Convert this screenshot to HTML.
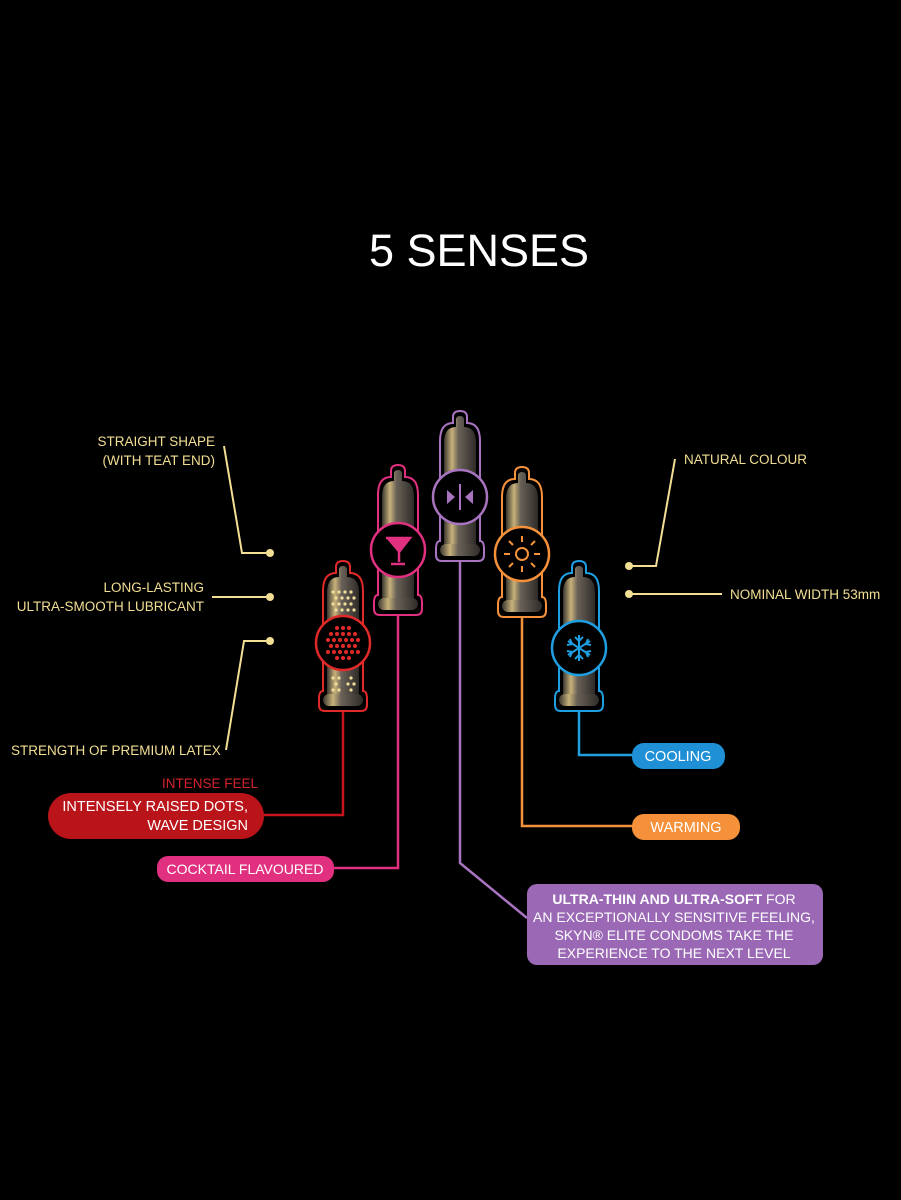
<!DOCTYPE html>
<html><head><meta charset="utf-8">
<style>
html,body{margin:0;padding:0;background:#000;}
body{width:901px;height:1200px;overflow:hidden;}
svg{display:block;}
text{font-family:"Liberation Sans",sans-serif;}
</style></head><body>
<svg width="901" height="1200" viewBox="0 0 901 1200" xmlns="http://www.w3.org/2000/svg">
<defs>
<linearGradient id="g" x1="0" x2="1" y1="0" y2="0">
<stop offset="0" stop-color="#3a3630"/><stop offset="0.25" stop-color="#c8b27a"/><stop offset="0.45" stop-color="#6a6258"/><stop offset="1" stop-color="#2e2b28"/>
</linearGradient>
<g id="c">
<path d="M-7,12 L-7,6 Q-7,0 0,0 Q7,0 7,6 L7,12 Q20,12 20,30 L20,130 Q24,130 24,138 L24,144 Q24,150 18,150 L-18,150 Q-24,150 -24,144 L-24,138 Q-24,130 -20,130 L-20,30 Q-20,12 -7,12 Z" fill="#000" stroke="currentColor" stroke-width="2"/>
<path d="M-4,16 L-4,9 Q-4,5 0,5 Q4,5 4,9 L4,16 Q16,16 16,32 L16,134 L-16,134 L-16,32 Q-16,16 -4,16 Z" fill="url(#g)"/>
<rect x="-20" y="133" width="40" height="12" rx="6" fill="url(#g)"/>
</g>
</defs>
<rect width="901" height="1200" fill="#000"/>
<text x="479" y="266" font-size="45" fill="#fff" text-anchor="middle">5 SENSES</text>

<g fill="none" stroke-width="2.5">
<polyline points="343,670 343,815 262,815" stroke="#c8151b"/>
<polyline points="398,577 398,868 332,868" stroke="#e0307f"/>
<polyline points="460,524 460,863 527,918" stroke="#a874c0"/>
<polyline points="522,581 522,826 633,826" stroke="#f5913a"/>
<polyline points="579,675 579,755 633,755" stroke="#1f9ee0"/>
</g>

<use href="#c" transform="translate(343,561)" color="#e02a2a"/>
<use href="#c" transform="translate(398,465)" color="#e0307f"/>
<use href="#c" transform="translate(460,411)" color="#a874c0"/>
<use href="#c" transform="translate(522,467)" color="#f5913a"/>
<use href="#c" transform="translate(579,561)" color="#1f9ee0"/>

<g fill="#f0df9a">
<circle cx="333" cy="592" r="1.6"/><circle cx="339" cy="592" r="1.6"/><circle cx="345" cy="592" r="1.6"/><circle cx="351" cy="592" r="1.6"/>
<circle cx="336" cy="598" r="1.6"/><circle cx="342" cy="598" r="1.6"/><circle cx="348" cy="598" r="1.6"/><circle cx="354" cy="598" r="1.6"/>
<circle cx="333" cy="604" r="1.6"/><circle cx="339" cy="604" r="1.6"/><circle cx="345" cy="604" r="1.6"/><circle cx="351" cy="604" r="1.6"/>
<circle cx="336" cy="610" r="1.6"/><circle cx="342" cy="610" r="1.6"/><circle cx="348" cy="610" r="1.6"/><circle cx="354" cy="610" r="1.6"/>
<circle cx="333" cy="678" r="1.6"/><circle cx="339" cy="678" r="1.6"/><circle cx="351" cy="678" r="1.6"/>
<circle cx="336" cy="684" r="1.6"/><circle cx="348" cy="684" r="1.6"/><circle cx="354" cy="684" r="1.6"/>
<circle cx="333" cy="690" r="1.6"/><circle cx="339" cy="690" r="1.6"/><circle cx="351" cy="690" r="1.6"/>
</g>

<g stroke-width="2.5" fill="#000">
<circle cx="343" cy="643" r="27" stroke="#e02a2a"/>
<circle cx="398" cy="550" r="27" stroke="#e0307f"/>
<circle cx="460" cy="497" r="27" stroke="#a874c0"/>
<circle cx="522" cy="554" r="27" stroke="#f5913a"/>
<circle cx="579" cy="648" r="27" stroke="#1f9ee0"/>
</g>
<g fill="#e02a2a">
<circle cx="337" cy="628" r="2"/><circle cx="343" cy="628" r="2"/><circle cx="349" cy="628" r="2"/>
<circle cx="331" cy="634" r="2"/><circle cx="337" cy="634" r="2"/><circle cx="343" cy="634" r="2"/><circle cx="349" cy="634" r="2"/><circle cx="355" cy="634" r="2"/>
<circle cx="328" cy="640" r="2"/><circle cx="334" cy="640" r="2"/><circle cx="340" cy="640" r="2"/><circle cx="346" cy="640" r="2"/><circle cx="352" cy="640" r="2"/><circle cx="358" cy="640" r="2"/>
<circle cx="331" cy="646" r="2"/><circle cx="337" cy="646" r="2"/><circle cx="343" cy="646" r="2"/><circle cx="349" cy="646" r="2"/><circle cx="355" cy="646" r="2"/>
<circle cx="328" cy="652" r="2"/><circle cx="334" cy="652" r="2"/><circle cx="340" cy="652" r="2"/><circle cx="346" cy="652" r="2"/><circle cx="352" cy="652" r="2"/><circle cx="358" cy="652" r="2"/>
<circle cx="337" cy="658" r="2"/><circle cx="343" cy="658" r="2"/><circle cx="349" cy="658" r="2"/>
</g>
<path d="M386,538 L410,538 L399,552 L399,562 M391,564 L405,564" stroke="#e0307f" stroke-width="2.5" fill="none"/>
<path d="M386,538 L410,538 L398,552 Z" fill="#e0307f"/>
<g fill="#a874c0"><path d="M447,490 L455,497 L447,504 Z"/><path d="M473,490 L465,497 L473,504 Z"/></g>
<line x1="460" y1="484" x2="460" y2="510" stroke="#a874c0" stroke-width="2"/>
<g stroke="#f5913a" stroke-width="2" fill="none">
<circle cx="522" cy="554" r="6"/>
<line x1="522" y1="536" x2="522" y2="542"/><line x1="522" y1="566" x2="522" y2="572"/>
<line x1="504" y1="554" x2="510" y2="554"/><line x1="534" y1="554" x2="540" y2="554"/>
<line x1="509" y1="541" x2="513" y2="545"/><line x1="531" y1="563" x2="535" y2="567"/>
<line x1="535" y1="541" x2="531" y2="545"/><line x1="513" y1="563" x2="509" y2="567"/>
</g>
<g stroke="#1f9ee0" stroke-width="2" fill="none">
<line x1="579" y1="635" x2="579" y2="661"/><line x1="568" y1="641" x2="590" y2="655"/><line x1="568" y1="655" x2="590" y2="641"/>
<path d="M575,637 L579,641 L583,637 M575,659 L579,655 L583,659 M567,645 L572,644 L570,639 M591,651 L586,652 L588,657 M567,651 L572,652 L570,657 M591,645 L586,644 L588,639"/>
</g>

<g stroke="#f3df94" stroke-width="2" fill="none">
<polyline points="224,446 242,553 270,553"/>
<line x1="212" y1="597" x2="270" y2="597"/>
<polyline points="226,750 244,641 270,641"/>
<polyline points="675,459 656,566 628,566"/>
<line x1="628" y1="594" x2="722" y2="594"/>
</g>
<g fill="#f3df94">
<circle cx="270" cy="553" r="4"/><circle cx="270" cy="597" r="4"/><circle cx="270" cy="641" r="4"/>
<circle cx="629" cy="566" r="4"/><circle cx="629" cy="594" r="4"/>
</g>
<g fill="#f3df94" font-size="13.5">
<text x="215" y="446" text-anchor="end">STRAIGHT SHAPE</text>
<text x="215" y="465" text-anchor="end">(WITH TEAT END)</text>
<text x="204" y="592" text-anchor="end">LONG-LASTING</text>
<text x="204" y="611" text-anchor="end">ULTRA-SMOOTH LUBRICANT</text>
<text x="11" y="755">STRENGTH OF PREMIUM LATEX</text>
<text x="684" y="464">NATURAL COLOUR</text>
<text x="730" y="599">NOMINAL WIDTH 53mm</text>
</g>

<text x="258" y="788" text-anchor="end" font-size="13.5" fill="#d5222a">INTENSE FEEL</text>
<rect x="48" y="793" width="216" height="46" rx="23" fill="#b8141a"/>
<text x="248" y="811" text-anchor="end" font-size="14.5" fill="#fff">INTENSELY RAISED DOTS,</text>
<text x="248" y="830" text-anchor="end" font-size="14.5" fill="#fff">WAVE DESIGN</text>

<rect x="157" y="856" width="177" height="26" rx="11" fill="#e0307f"/>
<text x="245" y="874" text-anchor="middle" font-size="14" fill="#fff">COCKTAIL FLAVOURED</text>

<rect x="632" y="743" width="93" height="26" rx="12" fill="#1f8fd6"/>
<text x="678" y="761" text-anchor="middle" font-size="14.5" fill="#fff">COOLING</text>

<rect x="632" y="814" width="108" height="26" rx="12" fill="#f5913a"/>
<text x="686" y="832" text-anchor="middle" font-size="14.5" fill="#fff">WARMING</text>

<rect x="527" y="884" width="296" height="81" rx="10" fill="#9a68b4"/>
<g fill="#fff" font-size="14" text-anchor="middle">
<text x="674" y="904"><tspan font-weight="bold">ULTRA-THIN AND ULTRA-SOFT</tspan> FOR</text>
<text x="674" y="922">AN EXCEPTIONALLY SENSITIVE FEELING,</text>
<text x="674" y="940">SKYN® ELITE CONDOMS TAKE THE</text>
<text x="674" y="958">EXPERIENCE TO THE NEXT LEVEL</text>
</g>
</svg>
</body></html>
